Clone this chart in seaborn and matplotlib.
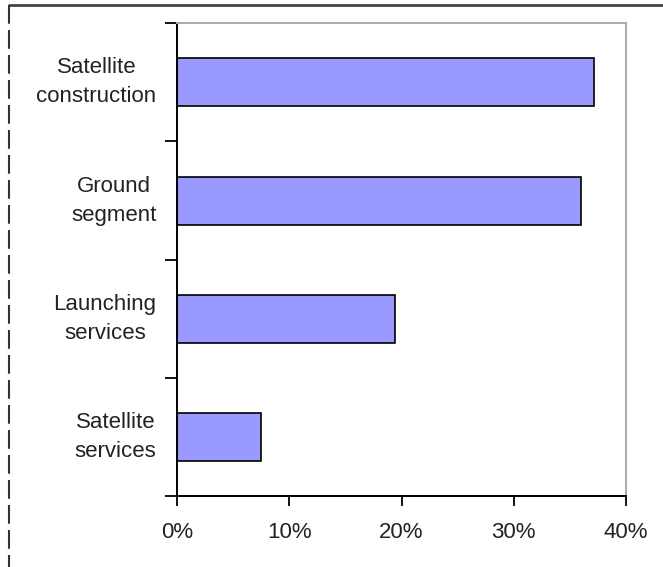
import matplotlib
matplotlib.use("Agg")
import matplotlib.pyplot as plt
import seaborn as sns
import pandas as pd
from matplotlib.lines import Line2D

categories = ["Satellite\nconstruction", "Ground\nsegment", "Launching\nservices", "Satellite\nservices"]
values = [37.2, 36.0, 19.4, 7.5]
x_ticks = [0, 10, 20, 30, 40]
x_tick_labels = ["0%", "10%", "20%", "30%", "40%"]

sns.set_theme(style="white")
plt.rcParams["font.family"] = ["Liberation Sans", "DejaVu Sans"]

df = pd.DataFrame({"category": categories, "value": values})

fig = plt.figure(figsize=(6.63, 5.67), dpi=100)
ax = fig.add_axes([177.3 / 663, 1 - 496 / 567, (625.7 - 177.3) / 663, (496 - 23.3) / 567])

sns.barplot(data=df, x="value", y="category", orient="h", color="#9999FF",
            saturation=1, edgecolor="black", linewidth=1.2, width=0.406, ax=ax)

ax.set_xlim(0, 40)
ax.set_ylim(3.5, -0.5)
ax.set_xticks(x_ticks)
ax.set_xticklabels(x_tick_labels)
ax.set_xlabel("")
ax.set_ylabel("")

# y ticks at category boundaries, labels at centres
ax.set_yticks([-0.5, 0.5, 1.5, 2.5, 3.5])
ax.set_yticklabels([])
ax.set_yticks(range(len(categories)), minor=True)
ax.set_yticklabels(categories, minor=True, multialignment="center", linespacing=1.5)
for lbl in ax.get_yticklabels(minor=True):
    lbl.set_verticalalignment("center")
ax.tick_params(axis="y", which="minor", length=0, pad=15, labelsize=16, labelcolor="#222222")
ax.tick_params(axis="y", which="major", length=9, width=1.3, direction="out", color="black", left=True)
ax.tick_params(axis="x", length=7, width=1.3, direction="out", color="black", bottom=True,
               pad=12, labelsize=16, labelcolor="#222222")

for s in ["left", "bottom"]:
    ax.spines[s].set_color("black")
    ax.spines[s].set_linewidth(1.4)
for s in ["top", "right"]:
    ax.spines[s].set_color("#aaaaaa")
    ax.spines[s].set_linewidth(1.4)
    ax.spines[s].set_visible(True)

# outer figure frame: solid top line, dashed left line
fig.add_artist(Line2D([9 / 663, 1], [1 - 4.5 / 567, 1 - 4.5 / 567], transform=fig.transFigure,
                      color="#444444", linewidth=2))
fig.add_artist(Line2D([9 / 663, 9 / 663], [1 - 5 / 567, 0], transform=fig.transFigure,
                      color="#333333", linewidth=1.5, linestyle=(0, (9, 3))))

fig.savefig("out.png", dpi=100)
